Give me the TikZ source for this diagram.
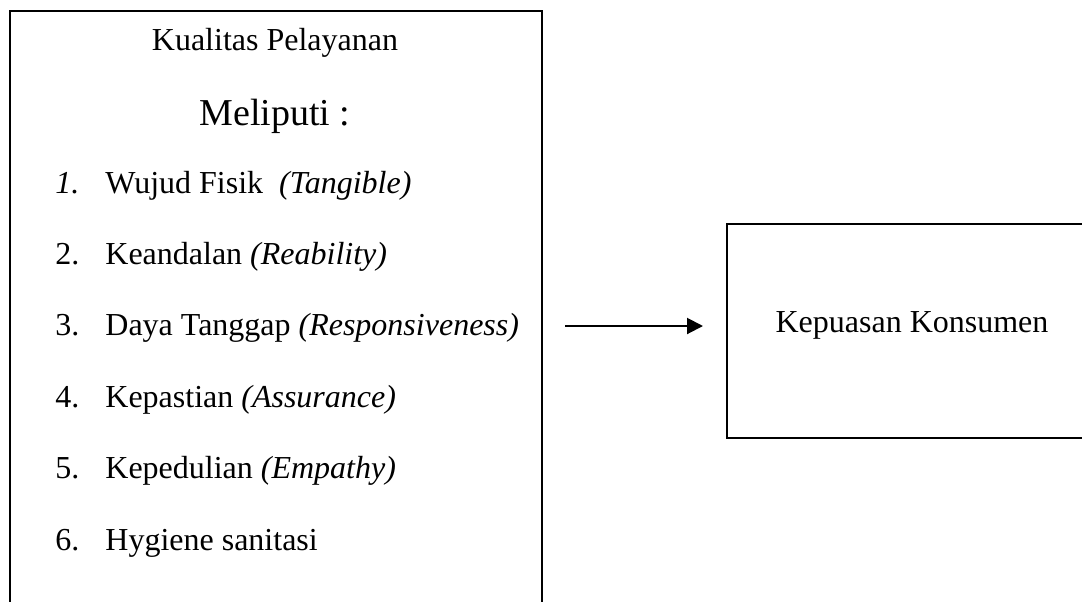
\documentclass[tikz,border=0pt]{standalone}
\usepackage{fontspec}
\setmainfont{Liberation Serif}
\usetikzlibrary{arrows.meta}
\begin{document}
\begin{tikzpicture}[x=0.5pt,y=-0.5pt,
  boxline/.style={draw=black,line width=0.85pt},
  txt/.style={inner sep=0pt,font=\fontsize{16}{19}\selectfont},
  big/.style={inner sep=0pt,font=\fontsize{19}{23}\selectfont},
  arr/.style={line width=1pt,-{Triangle[length=8pt,width=8pt]}}]
\useasboundingbox (0,0) rectangle (1082,601);
\clip (0,0) rectangle (1082,601);
% boxes
\node[boxline,inner sep=0pt,minimum width=266pt,minimum height=320pt,anchor=north west] (lbox) at (9,10) {};
\node[boxline,inner sep=0pt,minimum width=200pt,minimum height=107pt,anchor=north west] (rbox) at (726,223) {};
% left box texts
\node[txt,anchor=base] (title) at (275,50) {Kualitas Pelayanan};
\node[big,anchor=base] (meliputi) at (275,125) {Meliputi :};
\node[txt,anchor=base west] (n1) at (55,193) {\textit{1.}};
\node[txt,anchor=base west] (t1) at (105,193) {Wujud Fisik\ \ \textit{(Tangible)}};
\node[txt,anchor=base west] (n2) at (55,264.4) {2.};
\node[txt,anchor=base west] (t2) at (105,264.4) {Keandalan \textit{(Reability)}};
\node[txt,anchor=base west] (n3) at (55,335.8) {3.};
\node[txt,anchor=base west] (t3) at (105,335.8) {Daya Tanggap \textit{(Responsiveness)}};
\node[txt,anchor=base west] (n4) at (55,407.2) {4.};
\node[txt,anchor=base west] (t4) at (105,407.2) {Kepastian \textit{(Assurance)}};
\node[txt,anchor=base west] (n5) at (55,478.6) {5.};
\node[txt,anchor=base west] (t5) at (105,478.6) {Kepedulian \textit{(Empathy)}};
\node[txt,anchor=base west] (n6) at (55,550) {6.};
\node[txt,anchor=base west] (t6) at (105,550) {Hygiene sanitasi};
% right box text
\node[txt,anchor=base] (kep) at (912,332) {Kepuasan Konsumen};
% arrow
\coordinate (a1) at (565,326);
\coordinate (a2) at (703,326);
\draw[arr] (a1) -- (a2);
\end{tikzpicture}
\end{document}
